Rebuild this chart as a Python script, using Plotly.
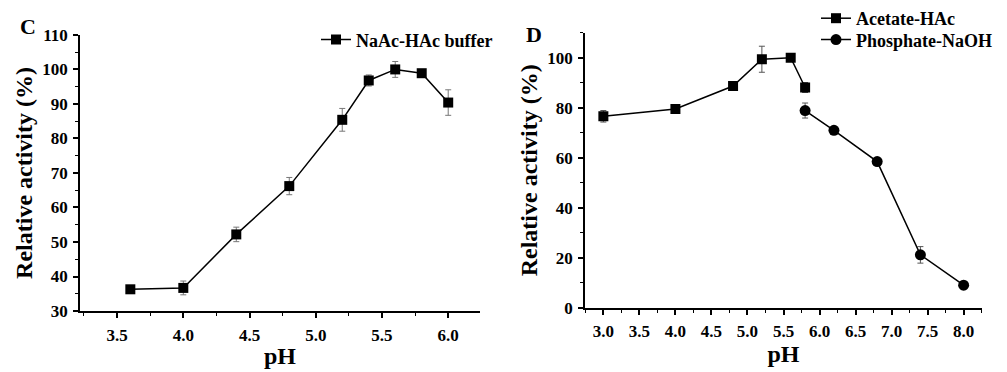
import plotly.graph_objects as go

# Panel C data
ph_c = [3.6, 4.0, 4.4, 4.8, 5.2, 5.4, 5.6, 5.8, 6.0]
act_c = [36.3, 36.7, 52.2, 66.2, 85.4, 96.8, 100.0, 98.9, 90.4]
err_c = [0.8, 2.0, 2.1, 2.5, 3.3, 1.6, 2.3, 0.8, 3.7]

# Panel D data
ph_ac = [3.0, 4.0, 4.8, 5.2, 5.6, 5.8]
act_ac = [76.6, 79.5, 88.7, 99.4, 100.0, 88.1]
err_ac = [2.3, 1.0, 1.0, 5.2, 0.5, 2.0]
ph_ph = [5.8, 6.2, 6.8, 7.4, 8.0]
act_ph = [78.9, 71.0, 58.5, 21.2, 9.1]
err_ph = [3.0, 1.0, 1.0, 3.3, 1.5]

FONT = "Liberation Serif"
W, H = 1007, 372

fig = go.Figure()

def err(vals, color="#777"):
    return dict(type="data", array=vals, visible=True, color=color, thickness=1, width=3)

fig.add_trace(go.Scatter(
    x=ph_c, y=act_c, error_y=err(err_c), mode="lines+markers",
    name="NaAc-HAc buffer", line=dict(color="black", width=1.5),
    marker=dict(symbol="square", size=10, color="black"),
    xaxis="x", yaxis="y", legend="legend", showlegend=True))
fig.add_trace(go.Scatter(
    x=ph_ac, y=act_ac, error_y=err(err_ac, "#555"), mode="lines+markers",
    name="Acetate-HAc", line=dict(color="black", width=1.5),
    marker=dict(symbol="square", size=10, color="black"),
    xaxis="x2", yaxis="y2", legend="legend2", showlegend=True))
fig.add_trace(go.Scatter(
    x=ph_ph, y=act_ph, error_y=err(err_ph, "#555"), mode="lines+markers",
    name="Phosphate-NaOH", line=dict(color="black", width=1.5),
    marker=dict(symbol="circle", size=11, color="black"),
    xaxis="x2", yaxis="y2", legend="legend3", showlegend=True))

tickfont = dict(family=FONT, size=17, color="black", weight="bold")
titlefont = dict(family=FONT, size=24, color="black", weight="bold")
xtitlefont = dict(family=FONT, size=24, color="black", weight="bold")
legfont = dict(family=FONT, size=18, color="black", weight="bold")

def xax(dom, rng, anchor, lstand, tstand):
    return dict(domain=dom, range=rng, anchor=anchor, showline=True, linecolor="black",
                linewidth=1.5, ticks="outside", ticklen=5, tickwidth=1.5, tickcolor="black",
                dtick=0.5, tick0=0, tickformat=".1f", showgrid=False, zeroline=False,
                ticklabelstandoff=lstand,
                tickfont=tickfont, title=dict(text="pH", font=xtitlefont, standoff=tstand),
                minor=dict(dtick=0.25, ticks="outside", ticklen=3, tickwidth=1.2, tickcolor="black"))

def yax(dom, rng, dtick, mdtick, anchor):
    return dict(domain=dom, range=rng, anchor=anchor, showline=True, linecolor="black",
                linewidth=1.5, ticks="outside", ticklen=5, tickwidth=1.5, tickcolor="black",
                dtick=dtick, tick0=0, showgrid=False, zeroline=False, ticklabelstandoff=2,
                tickfont=tickfont, title=dict(text="Relative activity (%)", font=titlefont, standoff=3),
                minor=dict(dtick=mdtick, ticks="outside", ticklen=3, tickwidth=1.2, tickcolor="black"))

def leg(xpx, ytop):
    return dict(x=xpx / W, y=1 - ytop / H, xanchor="left", yanchor="top",
                bgcolor="rgba(0,0,0,0)", font=legfont, itemwidth=30, tracegroupgap=0)

fig.update_layout(
    width=W, height=H, margin=dict(l=0, r=0, t=0, b=0),
    plot_bgcolor="white", paper_bgcolor="white", showlegend=True,
    xaxis=xax([80 / W, 480 / W], [3.22, 6.24], "y", 3, 3),
    yaxis=yax([(H - 318.3) / H, (H - 27.3) / H], [30, 110], 10, 5, "x"),
    xaxis2=xax([585 / W, 982 / W], [2.745, 8.255], "y2", 2, 5),
    yaxis2=yax([(H - 315) / H, (H - 25) / H], [0, 110], 20, 10, "x2"),
    legend=leg(316, 13),
    legend2=leg(816, -10),
    legend3=leg(816, 13),
    annotations=[
        dict(text="C", x=28 / W, y=1 - 18 / H, xref="paper", yref="paper", showarrow=False,
             xanchor="center", yanchor="middle",
             font=dict(family=FONT, size=22, color="black", weight="bold")),
        dict(text="D", x=534 / W, y=1 - 27 / H, xref="paper", yref="paper", showarrow=False,
             xanchor="center", yanchor="middle",
             font=dict(family=FONT, size=22, color="black", weight="bold")),
    ],
)

fig.write_html("out.html")
